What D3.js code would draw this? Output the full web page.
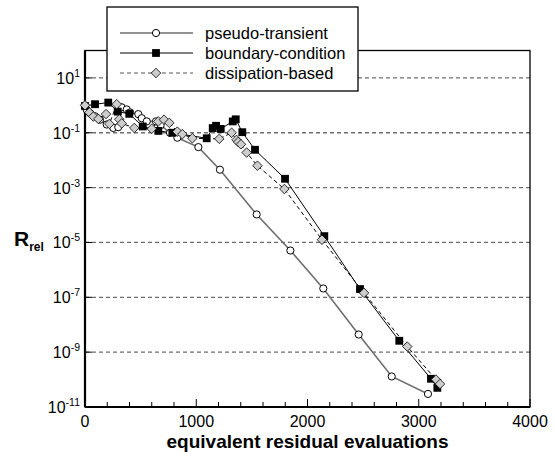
<!DOCTYPE html>
<html>
<head>
<meta charset="utf-8">
<script src="https://cdn.jsdelivr.net/npm/d3@7"></script>
<style>
  body { margin: 0; background: #fff; }
  text { font-family: "Liberation Sans", Arial, sans-serif; }
</style>
</head>
<body>
<svg id="chart"></svg>
<script>
// convergence histories
const pseudoX = [0, 15, 45, 90, 135, 195, 254, 299, 330, 375, 405, 479, 510, 555, 638, 680, 764, 830, 1019, 1213, 1543, 1846, 2142, 2460, 2757, 3083];
const pseudoR = [0.95, 0.69, 0.52, 0.40, 0.30, 0.20, 0.15, 0.16, 0.85, 0.71, 0.55, 0.48, 0.34, 0.26, 0.26, 0.19, 0.10, 0.066, 0.030, 4.5e-3, 1.05e-4, 5.1e-6, 2.1e-7, 4.4e-9, 1.3e-10, 3.0e-11];

const boundX = [0, 90, 209, 294, 398, 519, 659, 785, 1094, 1148, 1178, 1220, 1328, 1355, 1414, 1528, 1798, 2151, 2472, 2825, 3110, 3167];
const boundR = [0.95, 1.1, 1.26, 0.59, 0.49, 0.17, 0.117, 0.10, 0.063, 0.148, 0.18, 0.138, 0.26, 0.31, 0.105, 0.024, 2.1e-3, 1.7e-5, 2.0e-7, 2.6e-9, 1.07e-10, 5.0e-11];

const dissX = [0, 40, 75, 120, 189, 219, 285, 308, 330, 443, 600, 659, 710, 758, 830, 875, 965, 1207, 1318, 1362, 1377, 1402, 1453, 1550, 1792, 2130, 2508, 2897, 3155, 3191];
const dissR = [1.0, 0.55, 0.39, 0.32, 0.48, 0.21, 1.1, 0.31, 0.22, 0.15, 0.14, 0.26, 0.30, 0.23, 0.11, 0.089, 0.063, 0.060, 0.10, 0.055, 0.046, 0.038, 0.019, 6.3e-3, 8.9e-4, 1.26e-5, 1.45e-7, 1.6e-9, 1.0e-10, 6.9e-11];

const seriesNames = ["pseudo-transient", "boundary-condition", "dissipation-based"];
const xTicks = [0, 1000, 2000, 3000, 4000];
const yTickExps = [-11, -9, -7, -5, -3, -1, 1];

var margin = {top: 50.5, right: 25, bottom: 52, left: 85},
  width = 555 - margin.left - margin.right,
  height = 459 - margin.top - margin.bottom;

const svg = d3.select("#chart").attr("width", 555).attr("height", 459);
const g = svg.append("g").attr("transform", `translate(${margin.left},${margin.top})`);

const x = d3.scaleLinear().domain([0, 4000]).range([0, width]);
const y = d3.scaleLog().domain([1e-11, 1e2]).range([height, 0]);

// dashed grid
g.selectAll(".grid").data(yTickExps.filter(e => e > -11))
  .enter().append("line")
  .attr("x1", 0).attr("x2", width)
  .attr("y1", d => y(Math.pow(10, d))).attr("y2", d => y(Math.pow(10, d)))
  .attr("stroke", "#6e6e6e").attr("stroke-width", 1.3)
  .attr("stroke-dasharray", "4,3");

// x ticks (inside)
const xMinor = d3.range(0, 4001, 200);
g.selectAll(".xt").data(xMinor)
  .enter().append("line")
  .attr("x1", d => x(d)).attr("x2", d => x(d))
  .attr("y1", height).attr("y2", d => height - (d % 1000 === 0 ? 8 : 5))
  .attr("stroke", "#000").attr("stroke-width", 1);

g.selectAll(".xl").data(xTicks)
  .enter().append("text")
  .attr("x", d => x(d)).attr("y", height + 20)
  .attr("text-anchor", "middle").attr("font-size", 16)
  .text(d => d);

// y ticks
g.selectAll(".yt").data(yTickExps)
  .enter().append("line")
  .attr("x1", 0).attr("x2", 7)
  .attr("y1", d => y(Math.pow(10, d))).attr("y2", d => y(Math.pow(10, d)))
  .attr("stroke", "#000").attr("stroke-width", 1);

const yl = g.selectAll(".yl").data(yTickExps)
  .enter().append("text")
  .attr("x", -5).attr("y", d => y(Math.pow(10, d)) + 6)
  .attr("text-anchor", "end").attr("font-size", 16);
yl.append("tspan").text("10");
yl.append("tspan").attr("dy", -7).attr("font-size", 10.5).text(d => d);

// frame
g.append("rect").attr("width", width).attr("height", height)
  .attr("fill", "none").attr("stroke", "#000").attr("stroke-width", 1.3);
g.append("line").attr("x1", 0).attr("x2", width).attr("y1", height).attr("y2", height)
  .attr("stroke", "#000").attr("stroke-width", 2.2);
g.append("line").attr("x1", 0).attr("x2", 0).attr("y1", 0).attr("y2", height)
  .attr("stroke", "#000").attr("stroke-width", 2.2);

const line = d3.line().x(d => x(d[0])).y(d => y(d[1]));
const pseudo = d3.zip(pseudoX, pseudoR);
const bound = d3.zip(boundX, boundR);
const diss = d3.zip(dissX, dissR);

const diamond = d3.symbol().type(d3.symbolDiamond2).size(58);

function drawCircle(sel, cx, cy) {
  sel.append("circle").attr("cx", cx).attr("cy", cy).attr("r", 3.6)
    .attr("fill", "#fff").attr("stroke", "#000").attr("stroke-width", 1);
}
function drawSquare(sel, cx, cy) {
  sel.append("rect").attr("x", cx - 3.9).attr("y", cy - 3.9)
    .attr("width", 7.8).attr("height", 7.8).attr("fill", "#000");
}
function drawDiamond(sel, cx, cy) {
  sel.append("path").attr("d", diamond)
    .attr("transform", `translate(${cx},${cy})`)
    .attr("fill", "#cdcdcd").attr("stroke", "#000").attr("stroke-width", 0.8);
}

// lines
g.append("path").datum(pseudo).attr("d", line)
  .attr("fill", "none").attr("stroke", "#6e6e6e").attr("stroke-width", 1.6);
g.append("path").datum(bound).attr("d", line)
  .attr("fill", "none").attr("stroke", "#000").attr("stroke-width", 1);
g.append("path").datum(diss).attr("d", line)
  .attr("fill", "none").attr("stroke", "#000").attr("stroke-width", 1)
  .attr("stroke-dasharray", "4,3");

// markers
const mk = g.append("g");
pseudo.forEach(d => drawCircle(mk, x(d[0]), y(d[1])));
bound.forEach(d => drawSquare(mk, x(d[0]), y(d[1])));
diss.forEach(d => drawDiamond(mk, x(d[0]), y(d[1])));

// axis titles
svg.append("text").attr("x", margin.left + x(2000)).attr("y", 448)
  .attr("text-anchor", "middle").attr("font-size", 19).attr("font-weight", "bold")
  .text("equivalent residual evaluations");
const yt = svg.append("text").attr("x", 14).attr("y", 246)
  .attr("font-size", 21).attr("font-weight", "bold");
yt.append("tspan").text("R");
yt.append("tspan").attr("dy", 5).attr("font-size", 12).text("rel");

// legend
const leg = svg.append("g");
leg.append("rect").attr("x", 107).attr("y", 7).attr("width", 251).attr("height", 84)
  .attr("fill", "#fff").attr("stroke", "#000").attr("stroke-width", 1.3);
const rows = [33, 53, 73];
leg.append("line").attr("x1", 120).attr("x2", 193).attr("y1", rows[0]).attr("y2", rows[0])
  .attr("stroke", "#6e6e6e").attr("stroke-width", 1.6);
drawCircle(leg, 156, rows[0]);
leg.append("line").attr("x1", 120).attr("x2", 193).attr("y1", rows[1]).attr("y2", rows[1])
  .attr("stroke", "#000").attr("stroke-width", 1);
drawSquare(leg, 156, rows[1]);
leg.append("line").attr("x1", 120).attr("x2", 193).attr("y1", rows[2]).attr("y2", rows[2])
  .attr("stroke", "#555").attr("stroke-width", 1).attr("stroke-dasharray", "4,3");
drawDiamond(leg, 156, rows[2]);
leg.selectAll(".lt").data(seriesNames)
  .enter().append("text")
  .attr("x", 205).attr("y", (d, i) => rows[i] + 5.5)
  .attr("font-size", 16.5)
  .text(d => d);
</script>
</body>
</html>
